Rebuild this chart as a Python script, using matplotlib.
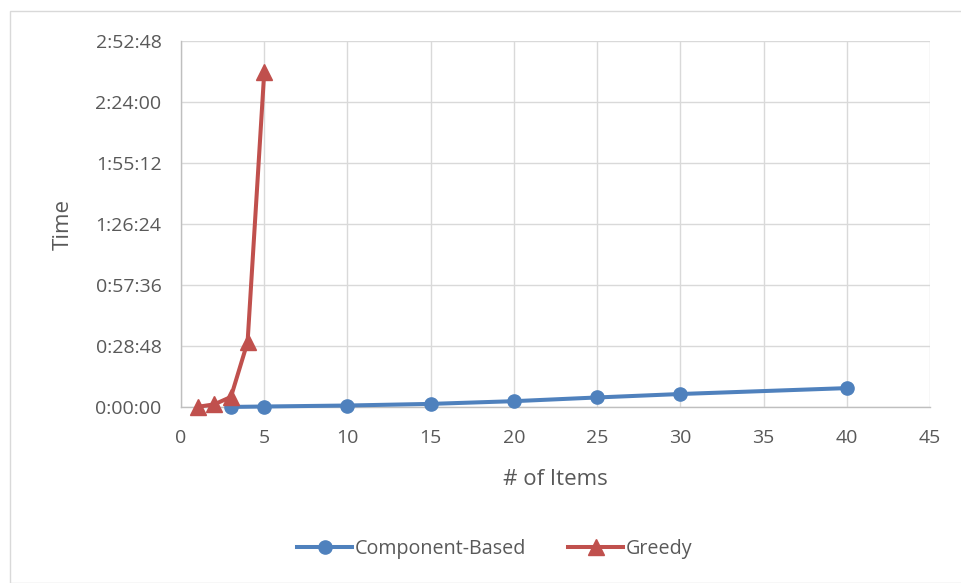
import matplotlib
matplotlib.use("Agg")
import matplotlib.pyplot as plt
from matplotlib.ticker import FuncFormatter, MultipleLocator
from matplotlib.patches import Rectangle

plt.rcParams['font.family'] = ['Open Sans', 'DejaVu Sans']

# Run time in seconds by number of items
comp_items = [3, 5, 10, 15, 20, 25, 30, 40]
comp_secs = [2, 14, 42, 88, 165, 270, 368, 535]

greedy_items = [1, 2, 3, 4, 5]
greedy_secs = [5, 75, 285, 1840, 9480]

TXT = '#595959'
GRID = '#d9d9d9'
AXIS = '#bfbfbf'
BLUE = '#4f81bd'
RED = '#c0504d'

fig = plt.figure(figsize=(9.61, 5.83), dpi=100)
fig.patches.append(Rectangle((10 / 961, 0), 1.0, 1 - 11 / 583,
                             transform=fig.transFigure, fill=False,
                             edgecolor=GRID, linewidth=1.0))

ax = fig.add_axes([181 / 961, 1 - 407 / 583, (930 - 181) / 961, (407 - 41) / 583])

ax.plot(comp_items, comp_secs, color=BLUE, linewidth=2.9, marker='o',
        markersize=9.5, label='Component-Based', zorder=3, clip_on=False)
ax.plot(greedy_items, greedy_secs, color=RED, linewidth=2.9, marker='^',
        markersize=12, label='Greedy', zorder=4, clip_on=False)

ax.set_xlim(0, 45)
ax.set_ylim(0, 10368)
ax.xaxis.set_major_locator(MultipleLocator(5))
ax.yaxis.set_major_locator(MultipleLocator(1728))


def hms(v, _):
    s = int(round(v))
    return f"{s // 3600}:{(s % 3600) // 60:02d}:{s % 60:02d}"


ax.yaxis.set_major_formatter(FuncFormatter(hms))

ax.grid(True, color=GRID, linewidth=1.0)
ax.set_axisbelow(True)
for side in ('top', 'right'):
    ax.spines[side].set_visible(False)
for side in ('left', 'bottom'):
    ax.spines[side].set_color(AXIS)
    ax.spines[side].set_linewidth(1.0)

ax.tick_params(axis='both', length=0, labelsize=14, labelcolor=TXT)
ax.tick_params(axis='x', pad=16)
ax.tick_params(axis='y', pad=14)

ax.set_xlabel('# of Items', fontsize=16, color=TXT, va='center')
ax.xaxis.set_label_coords(0.5, -0.198)
ax.set_ylabel('Time', fontsize=16, color=TXT, va='center', ha='center')
ax.yaxis.set_label_coords(-0.1575, 0.5)

fig.legend(loc='center', bbox_to_anchor=(0.515, 1 - 549 / 583), ncol=2,
           frameon=False, fontsize=14.2, labelcolor=TXT, handlelength=2.8,
           columnspacing=2.1, handletextpad=0.15)

fig.savefig('out.png', dpi=100)
